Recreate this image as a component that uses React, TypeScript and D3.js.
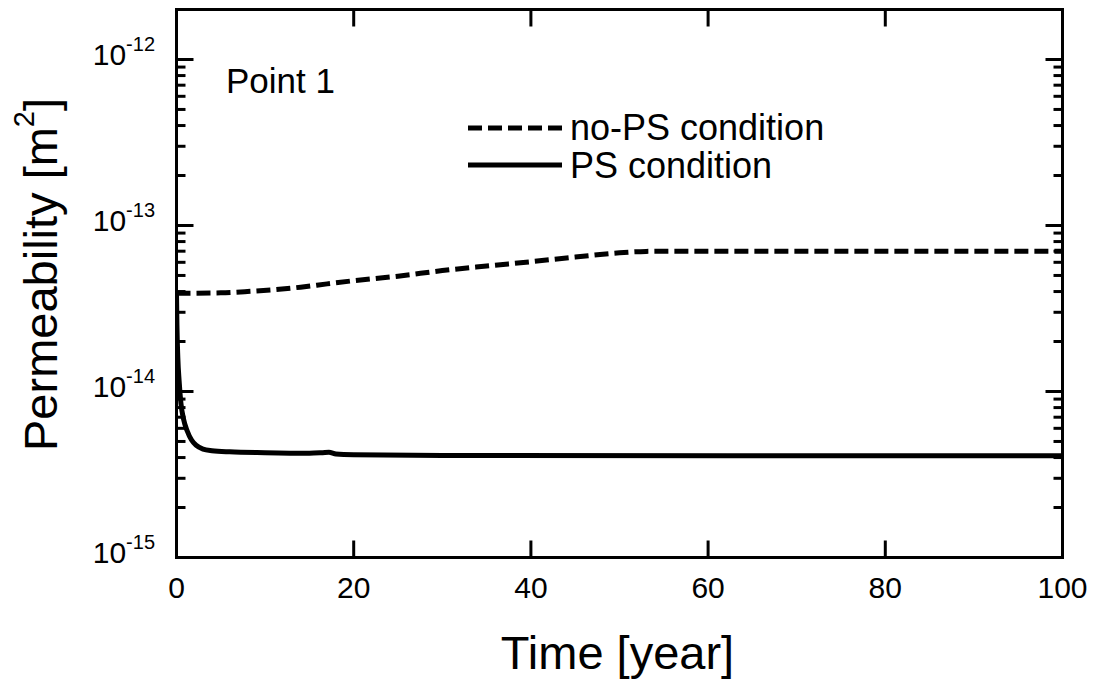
import React from "react";
import * as d3 from "d3";

// Data
const noPSTime = [0, 5, 8, 11, 14, 17, 20, 25, 30, 35, 40, 45, 50, 53, 56, 100];
const noPSValue = [3.9e-14, 3.93e-14, 4.0e-14, 4.1e-14, 4.25e-14, 4.45e-14, 4.65e-14, 4.95e-14, 5.35e-14, 5.7e-14, 6.05e-14, 6.45e-14, 6.85e-14, 6.98e-14, 7.0e-14, 7.0e-14];
const psTime = [0, 0.05, 0.15, 0.3, 0.5, 0.8, 1.2, 1.7, 2.2, 3, 4, 6, 10, 15, 16.5, 17.2, 18, 20, 30, 100];
const psValue = [3.9e-14, 2.5e-14, 1.6e-14, 1.15e-14, 8.5e-15, 6.8e-15, 5.8e-15, 5.1e-15, 4.75e-15, 4.5e-15, 4.4e-15, 4.33e-15, 4.28e-15, 4.25e-15, 4.28e-15, 4.3e-15, 4.2e-15, 4.16e-15, 4.12e-15, 4.1e-15];
const xTicks = [0, 20, 40, 60, 80, 100];
const yMajorExps = [-15, -14, -13, -12];
const legendLabels = ["no-PS condition", "PS condition"];
const annotation = "Point 1";
const xTitle = "Time [year]";

const FONT = "'Liberation Sans', Arial, Helvetica, sans-serif";

export default function App() {
  const W = 1101, H = 681;
  const L = 176.5, R = 1062.5, T = 9.5, B = 557.5;
  const x = d3.scaleLinear().domain([0, 100]).range([L, R]);
  const y = d3.scaleLog().domain([1e-15, 2e-12]).range([B, T]);

  const minor: number[] = [];
  for (let e = -15; e <= -12; e++) {
    for (let m = 2; m <= 9; m++) {
      const v = m * Math.pow(10, e);
      if (v < 2e-12) minor.push(v);
    }
  }

  const line = d3
    .line<[number, number]>()
    .x((d) => x(d[0]))
    .y((d) => y(d[1]))
    .curve(d3.curveMonotoneX);

  const noPS = noPSTime.map((t, i) => [t, noPSValue[i]] as [number, number]);
  const ps = psTime.map((t, i) => [t, psValue[i]] as [number, number]);

  const majLen = 17, minLen = 9;

  return (
    <svg
      width={W}
      height={H}
      style={{ position: "absolute", left: 0, top: 0, background: "#fff" }}
      fontFamily={FONT}
    >
      <defs>
        <clipPath id="plotclip">
          <rect x={L} y={T} width={R - L} height={B - T} />
        </clipPath>
      </defs>
      <rect x={0} y={0} width={W} height={H} fill="#fff" />

      {/* curves */}
      <g clipPath="url(#plotclip)">
        <path d={line(noPS) || ""} fill="none" stroke="#000" strokeWidth={5} strokeDasharray="14,6" />
        <path d={line(ps) || ""} fill="none" stroke="#000" strokeWidth={5} strokeLinejoin="round" />
      </g>

      {/* frame */}
      <rect x={L} y={T} width={R - L} height={B - T} fill="none" stroke="#000" strokeWidth={3} />

      {/* x ticks */}
      {xTicks.map((t) => (
        <g key={"xt" + t}>
          <line x1={x(t)} x2={x(t)} y1={B} y2={B - majLen} stroke="#000" strokeWidth={3} />
          <line x1={x(t)} x2={x(t)} y1={T} y2={T + majLen} stroke="#000" strokeWidth={3} />
          <text x={x(t)} y={598} textAnchor="middle" fontSize={30} fill="#000">
            {t}
          </text>
        </g>
      ))}

      {/* y major ticks */}
      {yMajorExps.map((e) => {
        const yy = y(Math.pow(10, e));
        return (
          <g key={"ym" + e}>
            <line x1={L} x2={L + majLen} y1={yy} y2={yy} stroke="#000" strokeWidth={3} />
            <line x1={R} x2={R - majLen} y1={yy} y2={yy} stroke="#000" strokeWidth={3} />
            <text x={155} y={yy + 5.5} textAnchor="end" fontSize={30} fill="#000">
              10
              <tspan dy={-14} fontSize={20}>
                {String(e)}
              </tspan>
            </text>
          </g>
        );
      })}

      {/* y minor ticks */}
      {minor.map((v, i) => {
        const yy = y(v);
        return (
          <g key={"yn" + i}>
            <line x1={L} x2={L + minLen} y1={yy} y2={yy} stroke="#000" strokeWidth={3} />
            <line x1={R} x2={R - minLen} y1={yy} y2={yy} stroke="#000" strokeWidth={3} />
          </g>
        );
      })}

      {/* axis titles */}
      <text x={617.5} y={669} textAnchor="middle" fontSize={47} fill="#000">
        {xTitle}
      </text>
      <text transform="translate(57,451) rotate(-90)" fontSize={47} fill="#000">
        Permeability [m
        <tspan dy={-23} fontSize={29}>2</tspan>
        <tspan dy={23}>]</tspan>
      </text>

      {/* annotation */}
      <text x={226} y={92.5} fontSize={35} fill="#000">
        {annotation}
      </text>

      {/* legend */}
      <line x1={468} x2={562} y1={128} y2={128} stroke="#000" strokeWidth={5} strokeDasharray="14,6" />
      <text x={570} y={140} fontSize={36} fill="#000">
        {legendLabels[0]}
      </text>
      <line x1={468} x2={562} y1={165} y2={165} stroke="#000" strokeWidth={5} />
      <text x={570} y={178} fontSize={36} fill="#000">
        {legendLabels[1]}
      </text>
    </svg>
  );
}
